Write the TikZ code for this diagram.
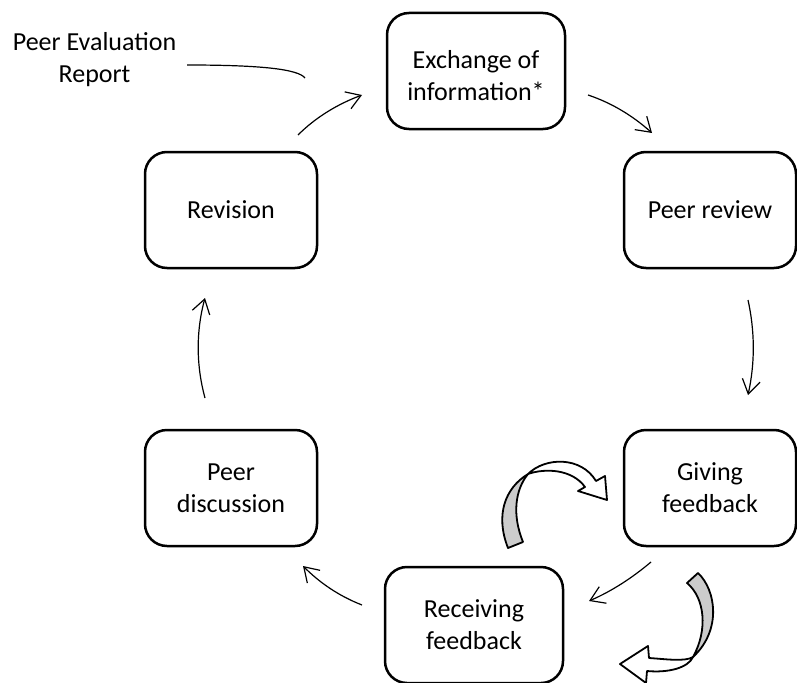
\documentclass[tikz,border=0pt]{standalone}
\usepackage{fontspec}
\setmainfont{Carlito}
\usetikzlibrary{arrows.meta}

\begin{document}
\begin{tikzpicture}[x=1pt,y=-1pt,font=\fontsize{26}{32}\selectfont,
    stage/.style={draw,line width=2.5pt,rounded corners=22pt,minimum width=172pt,
      minimum height=116pt,align=center,inner sep=0pt},
    flow/.style={line width=1.2pt,-{Straight Barb[length=14pt,width=18pt]}},
    twist/.style={draw,line width=1.8pt,line join=round}]
  \useasboundingbox (0,0) rectangle (797,682);
  % the six stages, clockwise from the top
  \node[stage,minimum width=178pt] (exch) at (476,71) {\rule{0pt}{27pt}Exchange of\\information*};
  \node[stage] (review) at (710,210) {Peer review};
  \node[stage] (giving) at (710,488) {Giving\\feedback};
  \node[stage,minimum width=178pt] (recv) at (474,625) {Receiving\\feedback};
  \node[stage] (disc) at (231,488) {Peer\\discussion};
  \node[stage] (rev) at (231,210) {Revision};
  \node[align=center,inner sep=0pt] (per) at (94.5,60) {Peer Evaluation\\Report};
  % free ends of the connectors
  \path (588,95) coordinate (exch-out) (652,133) coordinate (review-in)
        (748,300) coordinate (review-out) (748,395) coordinate (giving-in)
        (651,562) coordinate (giving-out) (589,601) coordinate (recv-in)
        (362,605) coordinate (recv-out) (303,566) coordinate (disc-in)
        (205,398) coordinate (disc-out) (205,298) coordinate (rev-in)
        (298,135) coordinate (rev-out) (362,95) coordinate (exch-in)
        (187,65) coordinate (per-out) (305,78) coordinate (per-in);
  \draw[flow] (exch-out) .. controls (612,103) and (633,116) .. (review-in);
  \draw[flow] (review-out) .. controls (755,332) and (755,363) .. (giving-in);
  \draw[flow] (giving-out) .. controls (632,578) and (612,591) .. (recv-in);
  \draw[flow] (recv-out) .. controls (339,596) and (320,583) .. (disc-in);
  \draw[flow] (disc-out) .. controls (196,365) and (196,331) .. (rev-in);
  \draw[flow] (rev-out) .. controls (316,117) and (338,104) .. (exch-in);
  \draw[line width=1.2pt] (per-out) .. controls (260,65) and (298,69) .. (per-in);
  % twisted block arrows between giving and receiving
  \filldraw[twist,fill=gray!40] (508,548) .. controls (495,515) and (505,488) .. (528,474)
    .. controls (515,490) and (512,515) .. (523,542) -- cycle;
  \filldraw[twist,fill=white] (528,474) .. controls (545,457) and (581,456) .. (596,481)
    -- (605,476) -- (607,500) -- (578,491) -- (585,487)
    .. controls (572,469) and (545,468) .. (528,474) -- cycle;
  \filldraw[twist,fill=gray!40] (698,573) .. controls (716,590) and (722,630) .. (693,657)
    .. controls (708,630) and (705,598) .. (687,583) -- cycle;
  \filldraw[twist,fill=white] (693,657) .. controls (685,662) and (665,659) .. (649,658)
    -- (648,646) -- (620,664) -- (646,683) -- (647,671)
    .. controls (668,673) and (688,668) .. (693,657) -- cycle;
\end{tikzpicture}
\end{document}
